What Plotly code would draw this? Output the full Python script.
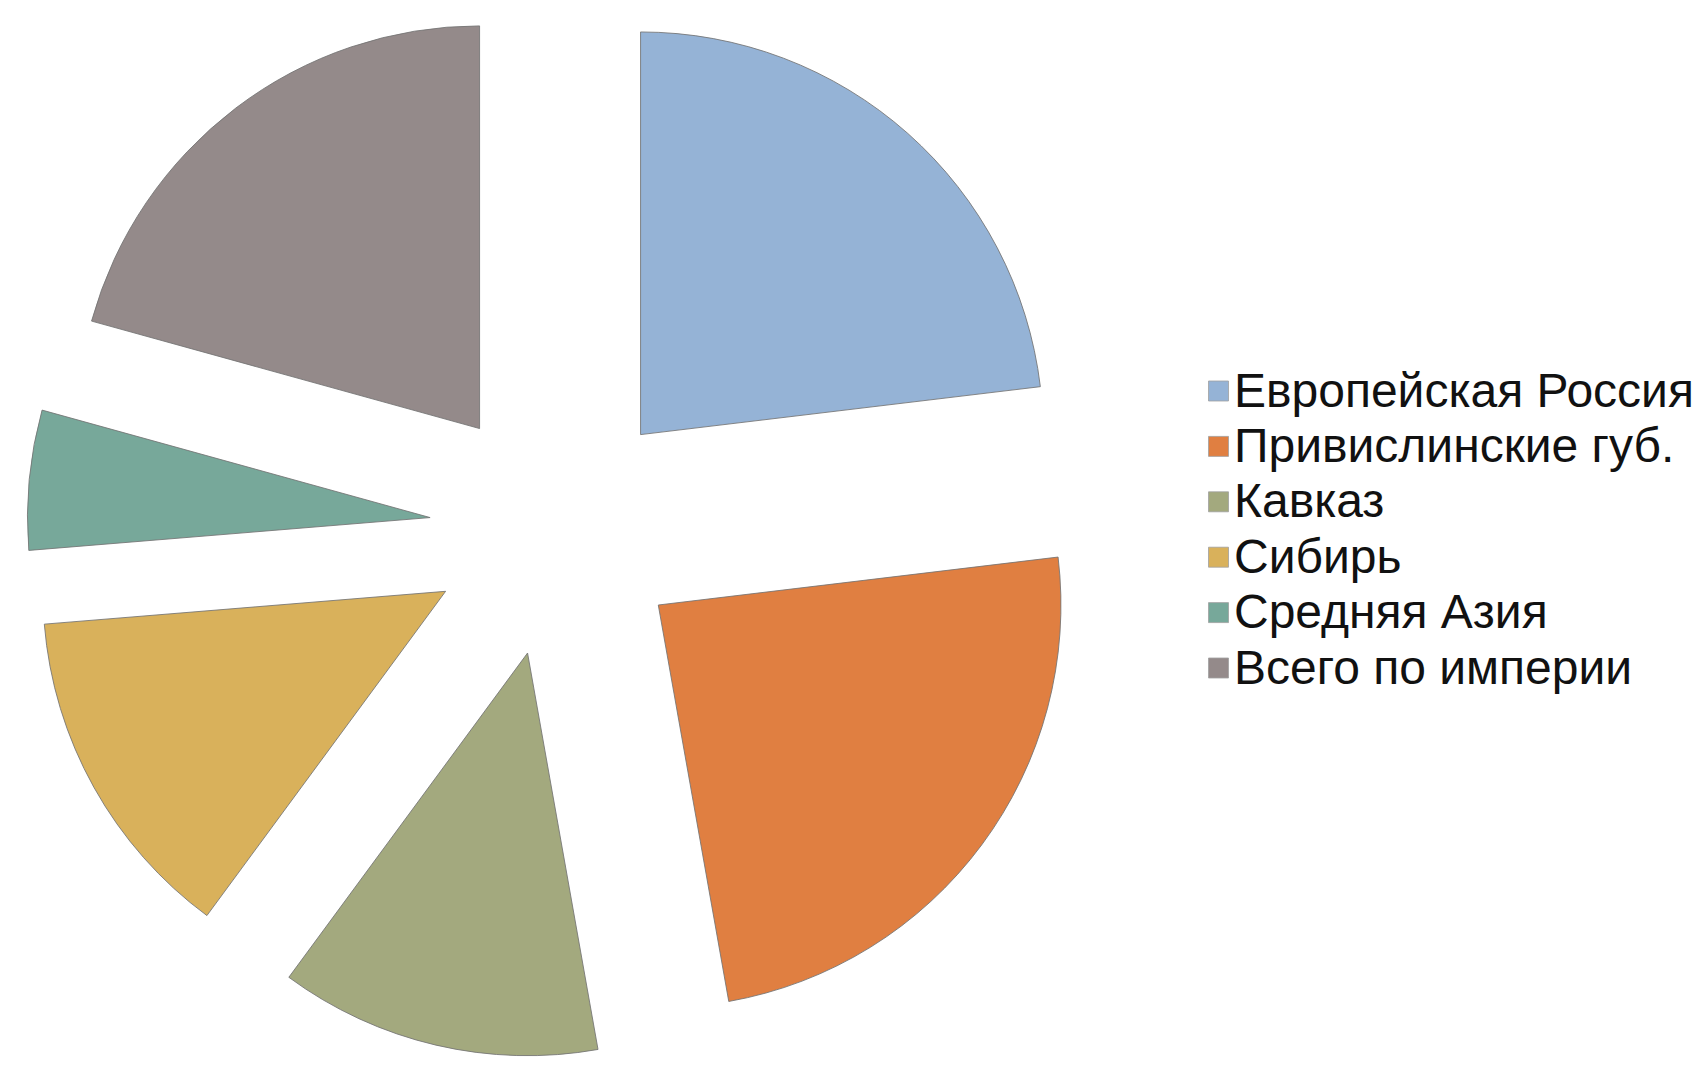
import plotly.graph_objects as go

categories = ["Европейская Россия", "Привислинские губ.", "Кавказ", "Сибирь", "Средняя Азия", "Всего по империи"]
values = [23.1, 24.1, 12.9, 13.6, 5.6, 20.7]
colors = ["#95B3D6", "#E07F41", "#A3A97E", "#D9B15B", "#77A89A", "#948A8A"]

W, H = 1702, 1071
B = 12

fig = go.Figure()
fig.add_trace(go.Pie(
    labels=categories,
    values=values,
    sort=False,
    direction="clockwise",
    rotation=0,
    pull=0.315,
    textinfo="none",
    hoverinfo="label+value",
    marker=dict(colors=colors, line=dict(color="rgba(115,115,115,0.85)", width=1)),
    domain=dict(x=[0, 0.6538], y=[0, 1]),
    showlegend=False,
))

# manual legend (large text, tight spacing as in the reference)
leg_text_x = 1232
leg_sq_cx = 1218.5
leg_y0 = 391
leg_dy = 55.4
sq = 20
for i, (lab, col) in enumerate(zip(categories, colors)):
    cy = leg_y0 + i * leg_dy
    fig.add_shape(type="rect", xref="paper", yref="paper",
                  x0=(leg_sq_cx - sq / 2) / W, x1=(leg_sq_cx + sq / 2) / W,
                  y0=1 - (cy + sq / 2) / (H - B), y1=1 - (cy - sq / 2) / (H - B),
                  fillcolor=col, line=dict(color="rgba(160,160,160,0.8)", width=1))
    fig.add_annotation(x=leg_text_x / W, y=1 - (cy - 1) / (H - B), xref="paper", yref="paper",
                       text=lab, showarrow=False, xanchor="left", yanchor="middle",
                       font=dict(family="Liberation Sans, Arial, sans-serif", size=48, color="#111111"))

fig.update_layout(
    width=W, height=H,
    margin=dict(l=0, r=0, t=0, b=B),
    paper_bgcolor="white",
    plot_bgcolor="white",
)

fig.write_html("out.html", config={"displayModeBar": False},
               post_script="document.body.style.margin='0';")
